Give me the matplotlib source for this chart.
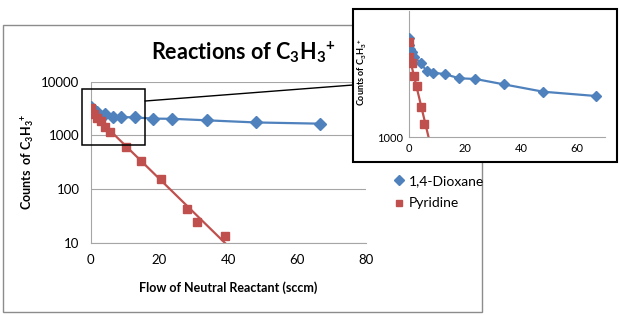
import numpy as np
import matplotlib
matplotlib.use("Agg")
import matplotlib.pyplot as plt
from matplotlib.patches import Rectangle
from matplotlib.lines import Line2D

plt.rcParams["font.family"] = ["Lato", "DejaVu Sans"]
plt.rcParams["mathtext.fontset"] = "custom"
plt.rcParams["mathtext.rm"] = "Lato"
plt.rcParams["mathtext.bf"] = "Lato:bold"
plt.rcParams["mathtext.default"] = "regular"

# data
dioxane_flow = [0, 0, 0.5, 1.3, 1.9, 4.3, 6.4, 8.8, 13, 18, 23.8, 33.9, 48, 66.8]
dioxane_counts = [3350, 3085, 2940, 2820, 2670, 2465, 2245, 2200, 2157, 2053, 2035, 1906, 1741, 1652]
pyridine_flow = [0, 0, 1.1, 1.9, 2.9, 4.3, 5.6, 10.2, 14.6, 20.4, 28.0, 31.0, 39.1]
pyridine_counts = [3210, 2670, 2465, 2120, 1875, 1450, 1173, 610, 330, 154, 43, 24, 13.5]
x_ticks = [0, 20, 40, 60, 80]
y_ticks = [10, 100, 1000, 10000]
inset_x_ticks = [0, 20, 40, 60]

BLUE = "#4F81BD"
RED = "#C0504D"
GRID = "#A6A6A6"

W, H = 619, 315


def fbox(left, top, right, bottom):
    return [left / W, 1 - bottom / H, (right - left) / W, (bottom - top) / H]


def fpt(x, y):
    return x / W, 1 - y / H


# exponential trendline for pyridine
coef = np.polyfit(pyridine_flow, np.log10(pyridine_counts), 1)
fit_x = np.linspace(0, max(pyridine_flow), 200)
fit_y = 10 ** np.polyval(coef, fit_x)


def draw_series(ax, ms_d, ms_s):
    ax.plot(fit_x, fit_y, color=RED, lw=1.6, zorder=2)
    ax.plot(dioxane_flow, dioxane_counts, color=BLUE, lw=1.6, zorder=2)
    ax.plot(dioxane_flow, dioxane_counts, ls="none", marker="D", ms=ms_d,
            color=BLUE, label="1,4-Dioxane", zorder=3)
    ax.plot(pyridine_flow, pyridine_counts, ls="none", marker="s", ms=ms_s,
            color=RED, label="Pyridine", zorder=3)


fig = plt.figure(figsize=(W / 100, H / 100), dpi=100)

# outer chart frame
fig.patches.append(Rectangle(fpt(3, 312), 479 / W, 287 / H, transform=fig.transFigure,
                             fill=False, edgecolor="#8C8C8C", lw=1, zorder=1))

# main chart
ax = fig.add_axes(fbox(90.7, 81.7, 365.5, 242.7), zorder=0)
ax.set_facecolor("none")
draw_series(ax, 6, 5.5)
ax.set_yscale("log")
ax.set_ylim(10, 10000)
ax.set_xlim(0, 80)
ax.set_xticks(x_ticks)
ax.set_yticks(y_ticks)
ax.set_yticklabels([str(v) for v in y_ticks])
ax.minorticks_off()
ax.tick_params(length=0, labelsize=9.5, pad=8)
ax.grid(axis="y", color=GRID, lw=0.8)
for s in ["top", "right"]:
    ax.spines[s].set_visible(False)
for s in ["left", "bottom"]:
    ax.spines[s].set_color(GRID)
ax.set_xlabel("Flow of Neutral Reactant (sccm)", fontsize=9, fontweight="bold", labelpad=11)
ax.set_ylabel(r"Counts  of C$_\mathbf{3}$H$_\mathbf{3}$$^\mathbf{+}$", fontsize=9,
              fontweight="bold", labelpad=3)

fig.text(*fpt(243, 52), r"Reactions of C$_\mathbf{3}$H$_\mathbf{3}$$^\mathbf{+}$",
         fontsize=15.5, fontweight="bold", ha="center", va="center")

# zoom box and connector
fig.patches.append(Rectangle(fpt(82, 145), 63.3 / W, 56 / H, transform=fig.transFigure,
                             fill=False, edgecolor="black", lw=1.1, zorder=2))
fig.lines.append(Line2D([145.3 / W, 353 / W], [1 - 101 / H, 1 - 85 / H],
                        transform=fig.transFigure, color="black", lw=1, zorder=2))

# inset frame
fig.patches.append(Rectangle(fpt(353, 162), 264 / W, 152.5 / H, transform=fig.transFigure,
                             facecolor="white", edgecolor="black", lw=1.5, zorder=3))

axi = fig.add_axes(fbox(408.7, 10.5, 605, 137), zorder=4)
axi.set_facecolor("none")
draw_series(axi, 5.5, 5.5)
axi.set_yscale("log")
axi.set_ylim(1000, 10 ** (3 + 126.5 / 188))
axi.set_xlim(0, 70)
axi.set_xticks(inset_x_ticks)
axi.set_yticks([1000])
axi.set_yticklabels(["1000"])
axi.minorticks_off()
axi.tick_params(length=0, labelsize=8, pad=4)
for s in ["top", "right"]:
    axi.spines[s].set_visible(False)
for s in ["left", "bottom"]:
    axi.spines[s].set_color(GRID)
fig.text(*fpt(362, 72), r"Counts of C$_\mathbf{3}$H$_\mathbf{3}$$^\mathbf{+}$", fontsize=6.5,
         fontweight="bold", rotation=90, ha="center", va="center", zorder=5)

# legend
handles, labels = ax.get_legend_handles_labels()
fig.legend(handles, labels, loc="upper left", bbox_to_anchor=fpt(388, 168),
           frameon=False, fontsize=10, handlelength=0.6, handletextpad=0.4,
           labelspacing=0.75, borderpad=0, markerscale=0.9)

fig.savefig("out.png", dpi=100)
